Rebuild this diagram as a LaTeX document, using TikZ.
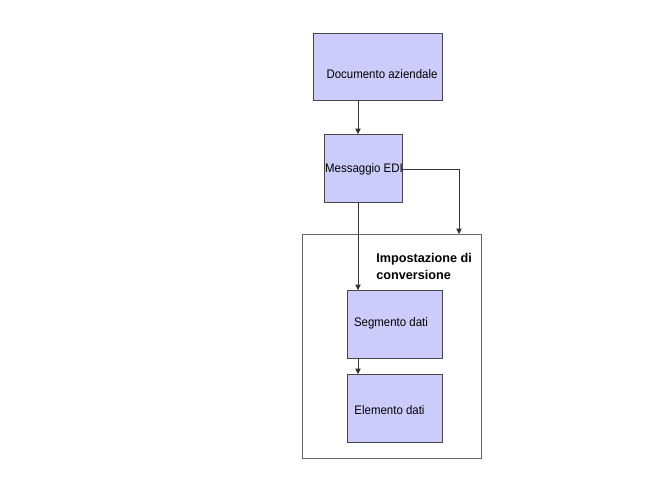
\documentclass[tikz,border=0pt]{standalone}
\usepackage{fontspec}
\setmainfont{Liberation Sans}
\usetikzlibrary{arrows.meta}
\definecolor{boxfill}{RGB}{204,204,250}
\definecolor{boxline}{RGB}{70,70,70}
\tikzset{
  procbox/.style={draw=boxline, fill=boxfill, line width=0.6pt},
  conn/.style={draw=black!80, line width=0.5pt, -{Triangle[length=4pt,width=4pt]}},
  lbl/.style={font=\fontsize{8.6}{11}\selectfont, inner sep=0pt, yscale=1.08},
}
\begin{document}
\begin{tikzpicture}[x=0.75pt,y=-0.75pt]
\useasboundingbox (0,0) rectangle (672,504);
% outer container
\draw[draw=black!60, line width=0.5pt] (302,234) rectangle (481,458);
\node[inner sep=0pt, font=\fontsize{9.5}{12.8}\selectfont\bfseries, align=left, anchor=north west] (title) at (376,253) {Impostazione di\\conversione};
% boxes
\draw[procbox] (313,33) rectangle (442,100);
\node[lbl] (doc) at (382,74) {Documento aziendale};
\coordinate (docb) at (358,100);
\draw[procbox] (324,134) rectangle (402,202);
\node[lbl] (msg) at (364,169) {Messaggio EDI};
\coordinate (msgt) at (358,134);
\coordinate (msgb) at (358,202);
\coordinate (msgr) at (402,169);
\draw[procbox] (347,290) rectangle (442,358);
\node[lbl] (seg) at (391,323) {Segmento dati};
\coordinate (segt) at (358,290);
\coordinate (segb) at (358,358);
\draw[procbox] (347,374) rectangle (442,442);
\node[lbl] (ele) at (389.5,410) {Elemento dati};
\coordinate (elet) at (358,374);
\coordinate (outt) at (459,234);
% connectors
\draw[conn] (docb) -- (msgt);
\draw[conn] (msgr) -| (outt);
\draw[conn] (msgb) -- (segt);
\draw[conn] (segb) -- (elet);
\end{tikzpicture}
\end{document}
